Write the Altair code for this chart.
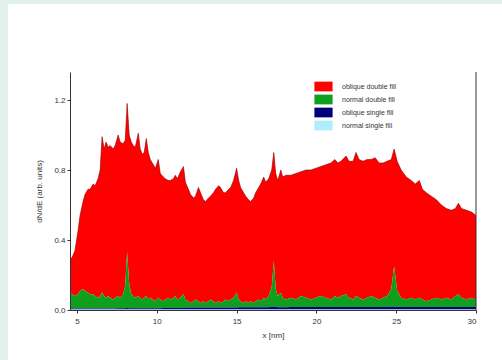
import altair as alt
import pandas as pd

x_nm = [4.56, 4.69, 4.87, 5.06, 5.19, 5.38, 5.50, 5.69, 5.82, 6.01,
        6.13, 6.32, 6.45, 6.57, 6.70, 6.82, 6.95, 7.08, 7.26, 7.39,
        7.58, 7.70, 7.89, 8.02, 8.14, 8.27, 8.40, 8.52, 8.65, 8.84,
        8.96, 9.09, 9.21, 9.34, 9.47, 9.59, 9.78, 9.91, 10.09, 10.22,
        10.41, 10.53, 10.72, 10.85, 11.04, 11.16, 11.29, 11.48, 11.67, 11.79,
        11.98, 12.11, 12.30, 12.42, 12.61, 12.74, 12.92, 13.05, 13.24, 13.36,
        13.55, 13.68, 13.87, 13.99, 14.18, 14.31, 14.50, 14.62, 14.81, 15.00,
        15.13, 15.25, 15.44, 15.57, 15.75, 15.88, 16.07, 16.19, 16.38, 16.51,
        16.70, 16.82, 17.01, 17.20, 17.33, 17.45, 17.58, 17.77, 17.89, 18.08,
        18.40, 18.71, 19.03, 19.34, 19.65, 19.97, 20.28, 20.60, 20.91, 21.16,
        21.35, 21.54, 21.86, 22.04, 22.30, 22.48, 22.67, 22.92, 23.18, 23.43,
        23.68, 23.93, 24.18, 24.43, 24.69, 24.87, 25.06, 25.31, 25.63, 25.94,
        26.19, 26.45, 26.64, 26.89, 27.20, 27.52, 27.83, 28.14, 28.46, 28.71,
        28.90, 29.09, 29.40, 29.72, 30.00]

# cumulative top of all four contributions (top of the red area)
total_top = [0.29, 0.30, 0.34, 0.45, 0.54, 0.62, 0.66, 0.69, 0.69, 0.72,
             0.71, 0.75, 0.80, 0.99, 0.92, 0.96, 0.93, 0.94, 0.92, 0.94,
             1.00, 0.96, 0.95, 0.97, 1.18, 1.00, 0.96, 0.94, 0.93, 1.01,
             0.92, 0.89, 0.90, 0.98, 0.90, 0.86, 0.83, 0.81, 0.86, 0.78,
             0.76, 0.75, 0.74, 0.74, 0.75, 0.77, 0.75, 0.79, 0.82, 0.73,
             0.69, 0.66, 0.64, 0.65, 0.70, 0.67, 0.63, 0.62, 0.64, 0.65,
             0.67, 0.69, 0.71, 0.70, 0.67, 0.67, 0.69, 0.70, 0.74, 0.81,
             0.74, 0.70, 0.67, 0.65, 0.63, 0.62, 0.64, 0.67, 0.70, 0.72,
             0.76, 0.73, 0.75, 0.80, 0.90, 0.78, 0.74, 0.80, 0.76, 0.77,
             0.77, 0.78, 0.79, 0.80, 0.80, 0.81, 0.82, 0.83, 0.84, 0.86,
             0.84, 0.85, 0.88, 0.85, 0.85, 0.90, 0.86, 0.85, 0.86, 0.86,
             0.87, 0.84, 0.84, 0.85, 0.86, 0.92, 0.85, 0.80, 0.76, 0.74,
             0.72, 0.74, 0.69, 0.67, 0.65, 0.63, 0.60, 0.58, 0.57, 0.58,
             0.61, 0.58, 0.57, 0.56, 0.54]

# cumulative top of green + blue + cyan
green_top = [0.10, 0.09, 0.08, 0.09, 0.11, 0.12, 0.11, 0.10, 0.09, 0.09,
             0.08, 0.07, 0.08, 0.10, 0.08, 0.07, 0.08, 0.07, 0.06, 0.07,
             0.08, 0.07, 0.09, 0.14, 0.33, 0.15, 0.09, 0.08, 0.07, 0.08,
             0.07, 0.06, 0.07, 0.08, 0.06, 0.07, 0.06, 0.05, 0.07, 0.06,
             0.05, 0.06, 0.07, 0.06, 0.07, 0.08, 0.06, 0.07, 0.09, 0.06,
             0.05, 0.04, 0.05, 0.06, 0.05, 0.04, 0.05, 0.04, 0.05, 0.06,
             0.05, 0.04, 0.05, 0.04, 0.05, 0.06, 0.05, 0.06, 0.07, 0.10,
             0.06, 0.05, 0.04, 0.05, 0.04, 0.05, 0.04, 0.05, 0.06, 0.05,
             0.07, 0.06, 0.08, 0.13, 0.28, 0.12, 0.08, 0.10, 0.07, 0.06,
             0.07, 0.06, 0.08, 0.07, 0.06, 0.07, 0.08, 0.07, 0.06, 0.08,
             0.07, 0.08, 0.09, 0.07, 0.06, 0.08, 0.07, 0.06, 0.07, 0.08,
             0.07, 0.06, 0.07, 0.08, 0.12, 0.25, 0.11, 0.07, 0.06, 0.07,
             0.06, 0.07, 0.06, 0.05, 0.06, 0.07, 0.06, 0.07, 0.06, 0.08,
             0.09, 0.07, 0.06, 0.07, 0.06]

# cumulative top of blue + cyan
blue_top = [0.008, 0.008, 0.008, 0.008, 0.008, 0.008, 0.008, 0.008, 0.008, 0.008,
            0.008, 0.008, 0.008, 0.008, 0.008, 0.008, 0.008, 0.008, 0.008, 0.008,
            0.010, 0.010, 0.010, 0.010, 0.012, 0.010, 0.010, 0.010, 0.010, 0.010,
            0.010, 0.010, 0.010, 0.010, 0.010, 0.010, 0.010, 0.010, 0.010, 0.010,
            0.012, 0.012, 0.012, 0.012, 0.012, 0.012, 0.012, 0.012, 0.012, 0.012,
            0.014, 0.014, 0.014, 0.014, 0.014, 0.014, 0.014, 0.014, 0.014, 0.014,
            0.015, 0.015, 0.015, 0.015, 0.015, 0.015, 0.015, 0.015, 0.015, 0.015,
            0.016, 0.016, 0.016, 0.016, 0.016, 0.016, 0.016, 0.016, 0.016, 0.016,
            0.016, 0.016, 0.016, 0.018, 0.020, 0.018, 0.016, 0.016, 0.016, 0.016,
            0.017, 0.017, 0.017, 0.017, 0.017, 0.017, 0.017, 0.017, 0.017, 0.017,
            0.017, 0.017, 0.017, 0.017, 0.017, 0.017, 0.017, 0.017, 0.017, 0.017,
            0.017, 0.017, 0.017, 0.017, 0.018, 0.020, 0.018, 0.017, 0.017, 0.017,
            0.017, 0.017, 0.017, 0.017, 0.017, 0.017, 0.017, 0.017, 0.017, 0.017,
            0.017, 0.017, 0.017, 0.017, 0.017]

# normal single fill: barely visible thin layer
cyan_level = 0.003

series_names = ["oblique double fill", "normal double fill",
                "oblique single fill", "normal single fill"]
series_colors = ["#ff0000", "#0f9f1f", "#00007a", "#aeeefc"]
stack_rank = [3, 2, 1, 0]

x_ticks = [5, 10, 15, 20, 25, 30]
y_ticks = [0.0, 0.4, 0.8, 1.2]

rows = []
for i, xv in enumerate(x_nm):
    comps = [total_top[i] - green_top[i],
             green_top[i] - blue_top[i],
             blue_top[i] - cyan_level,
             cyan_level]
    for k in range(4):
        rows.append({"x": xv, "value": comps[k], "series": series_names[k],
                     "rank": stack_rank[k]})
df = pd.DataFrame(rows)
df_total = pd.DataFrame({"x": x_nm, "total": total_top})

W, H = 406, 238
xscale = alt.Scale(domain=[4.56, 30], nice=False, zero=False)
yscale = alt.Scale(domain=[0, 1.36], nice=False)

bg = alt.Chart(pd.DataFrame({"a": [0]})).mark_rect(color="white").encode(
    x=alt.value(-62), x2=alt.value(W + 40), y=alt.value(-68), y2=alt.value(H + 60)
)

area = alt.Chart(df).mark_area(interpolate="linear", strokeWidth=0).encode(
    x=alt.X("x:Q", scale=xscale,
            axis=alt.Axis(values=x_ticks, title="x [nm]", format="d",
                          grid=False, tickSize=3, labelFontSize=8,
                          titleFontSize=8, titleFontWeight="normal",
                          labelColor="#333", titleColor="#333",
                          domainColor="#333", tickColor="#333",
                          titlePadding=6, labelPadding=4, zindex=2)),
    y=alt.Y("value:Q", stack="zero", scale=yscale,
            axis=alt.Axis(values=y_ticks, title="dN/dE (arb. units)",
                          format=".1f", grid=False, tickSize=3,
                          labelFontSize=8, titleFontSize=8,
                          titleFontWeight="normal", labelColor="#333",
                          titleColor="#333", domainColor="#333",
                          tickColor="#333", titlePadding=10, zindex=2)),
    color=alt.Color("series:N",
                    scale=alt.Scale(domain=series_names, range=series_colors),
                    legend=alt.Legend(title=None, orient="none",
                                      legendX=247, legendY=8,
                                      symbolType="M-1.4,-0.75H1.4V0.75H-1.4Z",
                                      symbolSize=169, symbolStrokeWidth=0,
                                      symbolOpacity=1,
                                      labelFontSize=7, labelColor="#333",
                                      labelOffset=12, rowPadding=1,
                                      zindex=2)),
    order=alt.Order("rank:Q", sort="ascending"),
)

edge = alt.Chart(df_total).mark_line(color="#8a0000", strokeWidth=0.6).encode(
    x=alt.X("x:Q", scale=xscale),
    y=alt.Y("total:Q", scale=yscale),
)

right_frame = alt.Chart(pd.DataFrame({"a": [0]})).mark_rule(
    color="#333", strokeWidth=1).encode(
    x=alt.value(W), y=alt.value(0), y2=alt.value(H)
)

chart = alt.layer(bg, area, edge, right_frame).properties(
    width=W, height=H,
    autosize=alt.AutoSizeParams(type="none"),
    padding={"left": 70, "top": 72, "right": 26, "bottom": 50},
).configure(
    background="#e2f1ec",
    font="Liberation Sans",
).configure_view(stroke=None)

chart.save("out.html", embed_options={"renderer": "svg", "actions": False})
